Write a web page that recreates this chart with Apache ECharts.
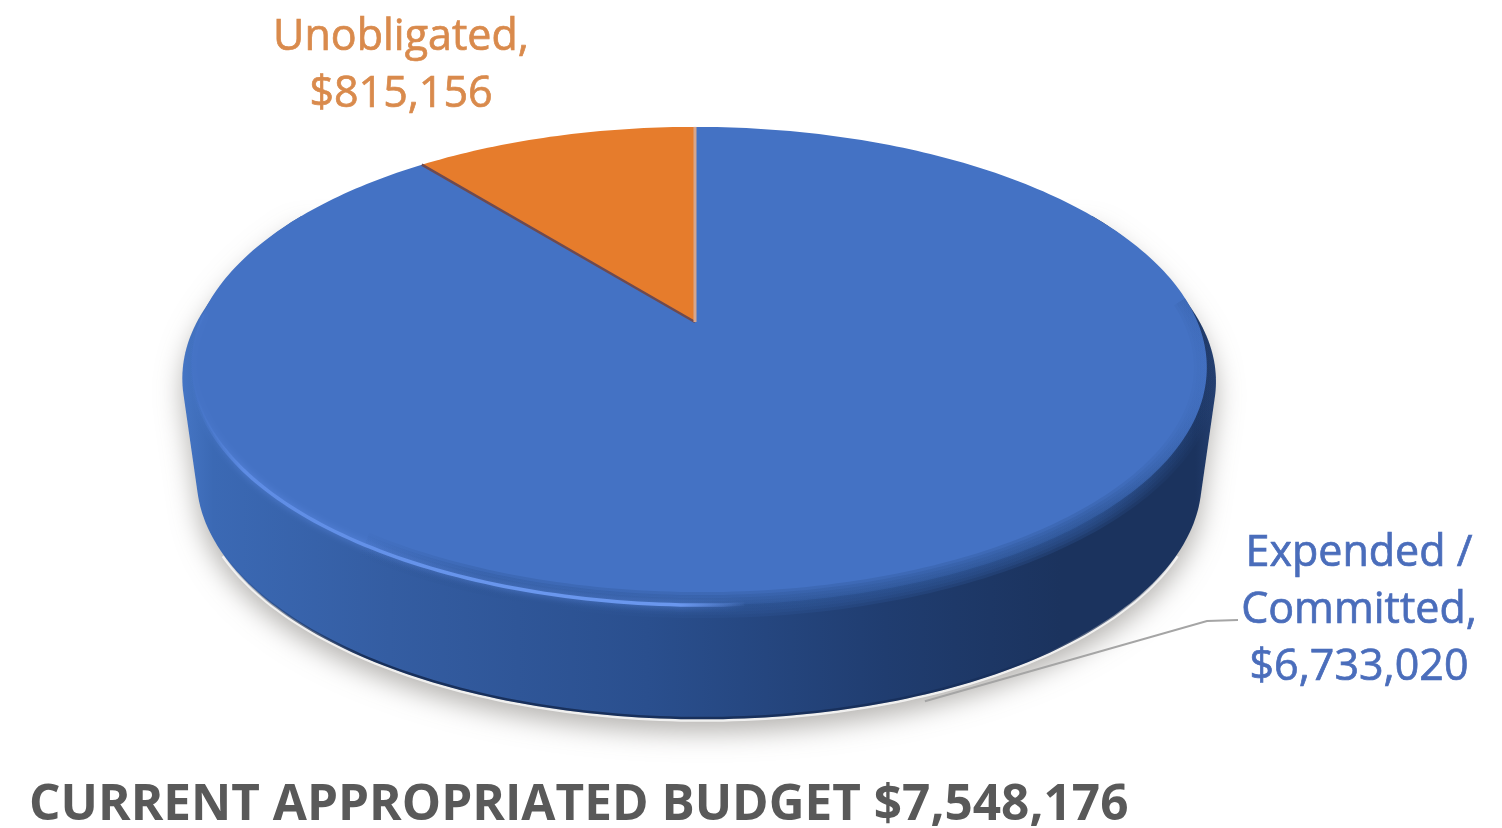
<!DOCTYPE html>
<html><head><meta charset="utf-8">
<style>html,body{margin:0;padding:0;background:#fff}#c{width:1502px;height:828px}</style>
<script src="https://cdn.jsdelivr.net/npm/echarts@6/dist/echarts.min.js"></script>
</head><body><div id="c"></div>
<script>
const categories = ['Expended /\nCommitted', 'Unobligated'];
const values = [6733020, 815156];
const titleText = 'CURRENT APPROPRIATED BUDGET $7,548,176';
const sliceColors = ['#4472C4', '#E67C2C'];
const labelColors = ['#4A6DBB', '#D98A4C'];
const labelAnchors = [[1359, 611], [401, 66]];

const total = values.reduce((a, b) => a + b, 0);
const PX = 695, PY = 322, SX = 499, SY = 231, PERSP = 0.184;
const DEPTH = 113, BOTTOM_SX = 494, RIM = 1.018, RIM_DROP = 14, DRIFT = 3.5;

function project(deg, sx, dy) {
  const t = deg * Math.PI / 180, c = Math.cos(t), w = 1 + PERSP * c;
  return [PX + sx * Math.sin(t) / w + DRIFT * (1 - c), PY + dy - SY * c / w];
}
const topPt = deg => project(deg, SX, 0);
const botPt = deg => project(deg, BOTTOM_SX, DEPTH);
function rimPt(deg) {
  const c = Math.cos(deg * Math.PI / 180);
  const u = Math.min(1, Math.max(0, (0.5 - c) / 0.5));
  const s = u * u * (3 - 2 * u);
  return project(deg, SX * (1 + (RIM - 1) * s), RIM_DROP * s);
}
function span(i) {
  let s = 0;
  for (let k = 0; k < i; k++) s += values[k];
  return [s / total * 360, (s + values[i]) / total * 360];
}
function arc(fn, a, b) {
  const pts = [], n = Math.max(2, Math.ceil(Math.abs(b - a)));
  for (let i = 0; i <= n; i++) pts.push(fn(a + (b - a) * i / n));
  return pts;
}
function hull(points) {
  const p = points.slice().sort((a, b) => a[0] - b[0] || a[1] - b[1]);
  const cross = (o, a, b) => (a[0] - o[0]) * (b[1] - o[1]) - (a[1] - o[1]) * (b[0] - o[0]);
  const build = list => {
    const h = [];
    list.forEach(q => {
      while (h.length >= 2 && cross(h[h.length - 2], h[h.length - 1], q) <= 0) h.pop();
      h.push(q);
    });
    h.pop();
    return h;
  };
  return build(p).concat(build(p.slice().reverse()));
}
const FRONT = [60, 300];
function clipFront(a, b) {
  const lo = Math.max(a, FRONT[0]), hi = Math.min(b, FRONT[1]);
  return hi > lo ? [lo, hi] : null;
}
const hGrad = stops => ({type: 'linear', x: 0, y: 0, x2: 1, y2: 0,
  colorStops: stops.map(s => ({offset: s[0], color: s[1]}))});
const empty = {type: 'group', children: []};
const WALL_FILL = hGrad([[0, '#4575C4'], [0.03, '#3B69B4'], [0.2, '#345DA2'], [0.45, '#2A4F8E'], [0.68, '#203D70'], [0.85, '#1B335E'], [0.98, '#1B335E'], [1, '#243F70']]);

function wallHull(c) {
  return hull(arc(rimPt, c[0], c[1]).concat(arc(botPt, c[0], c[1])));
}
function renderShadow(params, api) {
  const r = span(params.dataIndex), c = clipFront(r[0], r[1]);
  if (!c) return empty;
  return {type: 'polygon', shape: {points: wallHull(c)}, silent: true,
    style: {fill: '#dedcd8', shadowBlur: 26, shadowColor: 'rgba(110,105,100,0.5)', shadowOffsetY: 14}};
}
function renderWall(params, api) {
  const r = span(params.dataIndex), c = clipFront(r[0], r[1]);
  if (!c) return empty;
  const gapLine = arc(botPt, 118, 242).map(p => [p[0], p[1] + 2.5]);
  return {type: 'group', children: [
    {type: 'polyline', shape: {points: gapLine}, silent: true,
     style: {fill: null, stroke: 'rgba(255,255,255,0.75)', lineWidth: 2.5}},
    {type: 'polygon', shape: {points: wallHull(c)}, silent: true, style: {fill: WALL_FILL}},
    {type: 'polyline', shape: {points: arc(botPt, 118, 242)}, silent: true,
     style: {fill: null, lineWidth: 2.5,
       stroke: hGrad([[0, 'rgba(24,48,92,0)'], [0.15, '#18305C'], [0.85, '#18305C'], [1, 'rgba(24,48,92,0)']])}}
  ]};
}
function renderTop(params, api) {
  const i = params.dataIndex, r = span(i);
  const pts = [[PX, PY]].concat(arc(topPt, r[0], r[1]));
  const kids = [{type: 'polygon', shape: {points: pts}, silent: true, style: {fill: sliceColors[i]}}];
  const c = clipFront(r[0], r[1]);
  if (c) {
    const softArc = arc(topPt, 84, 215);
    const softKids = [26, 20, 14, 8, 3].map(w => ({type: 'polyline', shape: {points: softArc}, silent: true,
      style: {fill: null, lineWidth: w, stroke: hGrad([[0, 'rgba(46,85,150,0)'], [0.15, 'rgba(46,85,150,0.3)'], [0.85, 'rgba(46,85,150,0.3)'], [1, 'rgba(46,85,150,0)']])}}));
    softKids.push({type: 'polyline', shape: {points: arc(topPt, 176, 272)}, silent: true,
      style: {fill: null, lineWidth: 3.5, shadowBlur: 7, shadowColor: 'rgba(95,140,230,0.85)',
              stroke: hGrad([[0, 'rgba(74,122,208,0)'], [0.1, '#5E8CE4'], [0.6, '#6A97EE'], [0.88, '#6A97EE'], [1, 'rgba(106,151,238,0)']])}});
    kids.push({type: 'group', children: softKids,
      clipPath: {type: 'polygon', shape: {points: hull(arc(rimPt, c[0], c[1]).concat(arc(botPt, c[0], c[1]), arc(topPt, 0, 360)))}}});
  } else {
    kids.push({type: 'line', shape: {x1: topPt(r[0])[0], y1: topPt(r[0])[1], x2: PX, y2: PY}, silent: true,
      style: {stroke: '#6E4A50', lineWidth: 2.5}});
    kids.push({type: 'line', shape: {x1: PX, y1: PY, x2: PX, y2: topPt(r[1])[1]}, silent: true,
      style: {stroke: '#D8A68C', lineWidth: 3}});
  }
  return {type: 'group', children: kids};
}
function renderLabel(params, api) {
  const i = params.dataIndex, a = labelAnchors[i];
  const v = api.value(0);
  const text = categories[i] + ',\n$' + v.toLocaleString('en-US');
  return {type: 'text', silent: true, style: {
    x: a[0], y: a[1], text, fill: labelColors[i], stroke: labelColors[i], lineWidth: 0.7,
    align: 'center', verticalAlign: 'middle', textAlign: 'center', textVerticalAlign: 'middle',
    fontFamily: 'Open Sans', fontSize: 43, lineHeight: 57}};
}
function renderLeader(params, api) {
  if (params.dataIndex !== 0) return empty;
  const e = botPt(158);
  return {type: 'polyline', silent: true,
    shape: {points: [[1238, 620], [1207, 621], [e[0], e[1] + 8]]},
    style: {fill: null, stroke: '#A5A5A5', lineWidth: 2}};
}

const chart = echarts.init(document.getElementById('c'), null, {renderer: 'canvas'});
const mk = (name, fn, z) => ({type: 'custom', name, coordinateSystem: 'none', renderItem: fn, z,
  data: values.map((v, i) => ({value: [v], name: categories[i]})), silent: true, animation: false, clip: false});
chart.setOption({
  animation: false,
  backgroundColor: '#fff',
  title: {text: titleText, left: 24, top: 776,
    textStyle: {fontFamily: 'Open Sans', fontWeight: 'bold', fontSize: 49.5, color: '#595959'}},
  series: [
    mk('shadow', renderShadow, 1),
    mk('leader', renderLeader, 2),
    mk('wall', renderWall, 3),
    mk('top', renderTop, 4),
    mk('labels', renderLabel, 5)
  ]
});
</script></body></html>
